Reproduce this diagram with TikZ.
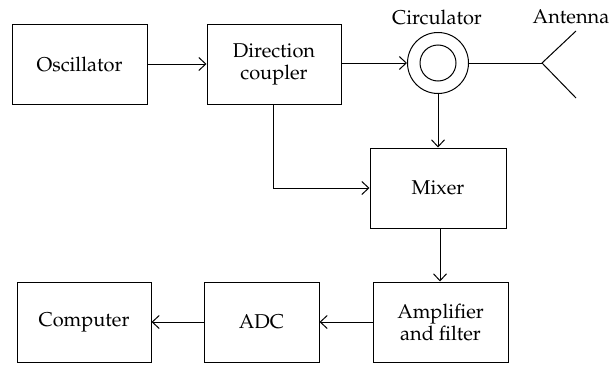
\documentclass[tikz,border=0pt]{standalone}
\usepackage[T1]{fontenc}
\usepackage{mathpazo}
\usetikzlibrary{arrows.meta}
\begin{document}
\begin{tikzpicture}[x=0.5pt,y=-0.5pt,
  blk/.style={draw, line width=0.5pt, minimum height=40pt, inner sep=0pt, align=center, font=\fontsize{10}{11}\selectfont},
  conn/.style={line width=0.5pt},
  arr/.style={conn, -{Straight Barb[length=3.5pt,width=6.5pt]}}]
\useasboundingbox (0,0) rectangle (610,364);
\node[blk, minimum width=67.5pt] (osc) at (79.5,64) {Oscillator};
\node[blk, minimum width=67pt] (dc) at (274,64) {Direction\\coupler};
\node[draw, circle, line width=0.5pt, minimum size=30.5pt, inner sep=0pt] (circ) at (438,63) {};
\node[draw, circle, line width=0.5pt, minimum size=18pt, inner sep=0pt] (circin) at (438,63) {};
\node[font=\fontsize{10}{11}\selectfont] (circlab) at (437,17) {Circulator};
\node[font=\fontsize{10}{11}\selectfont] (antlab) at (571,17) {Antenna};
\coordinate (apex) at (542,63);
\coordinate (antup) at (576,31);
\coordinate (antdn) at (576,98);
\node[blk, minimum width=68pt] (mix) at (438,188) {Mixer};
\node[blk, minimum width=67.5pt] (amp) at (440.5,322) {Amplifier\\and filter};
\node[blk, minimum width=57.5pt] (adc) at (261.5,322) {ADC};
\node[blk, minimum width=67pt] (comp) at (84,322) {Computer};
\draw[arr] (osc.east) -- (dc.west);
\draw[arr] (dc.east |- circ.west) -- (circ.west);
\draw[conn] (circ.east) -- (apex);
\draw[conn] (antup) -- (apex) -- (antdn);
\draw[arr] (circ.south) -- (circ.south |- mix.north);
\draw[arr] ([xshift=-0.5pt]dc.south) |- (mix.west);
\draw[arr] ([xshift=1pt]mix.south) -- ([xshift=1pt]mix.south |- amp.north);
\draw[arr] (amp.west) -- (adc.east);
\draw[arr] (adc.west) -- (comp.east);
\end{tikzpicture}
\end{document}
